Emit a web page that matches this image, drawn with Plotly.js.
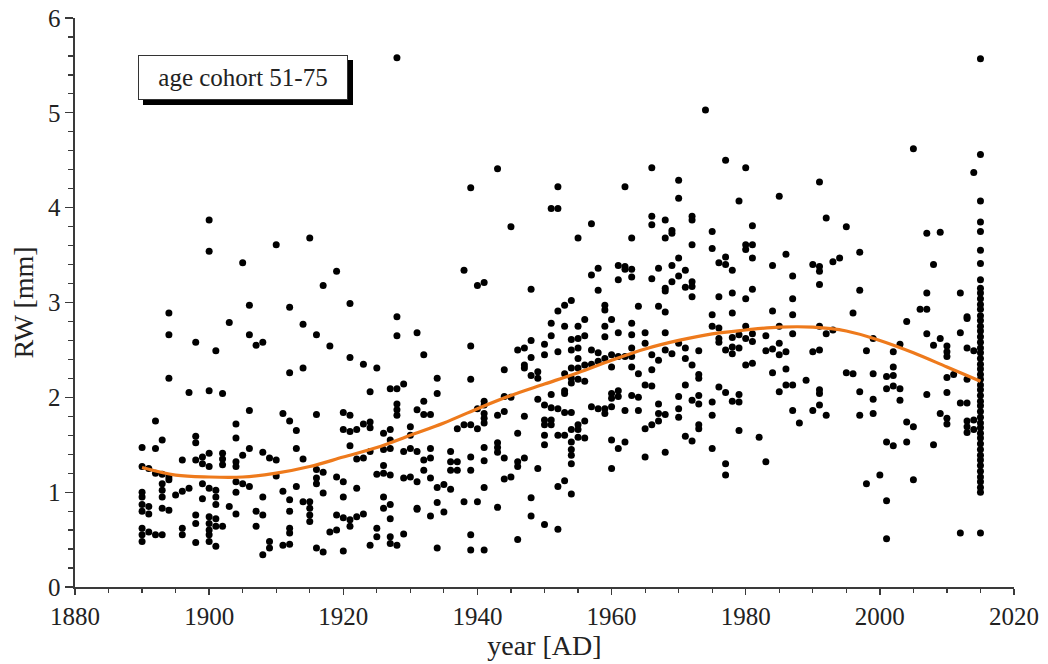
<!DOCTYPE html>
<html>
<head>
<meta charset="utf-8">
<script src="https://cdn.plot.ly/plotly-3.0.1.min.js"></script>
<style>
  html, body { margin: 0; padding: 0; background: #ffffff; }
  #chart { width: 1048px; height: 664px; }
</style>
</head>
<body>
<div id="chart"></div>
<script>
// ---- Data: [year, ring width in mm] ----
const points1890to1931 = [
  [1928,5.58],[1900,3.87],[1900,3.54],[1915,3.68],[1910,3.61],[1905,3.42],[1919,3.33],[1917,3.18],[1894,2.89],[1906,2.97],[1912,2.95],[1921,2.99],[1928,2.85],
  [1903,2.79],[1914,2.77],[1928,2.65],[1894,2.66],[1906,2.66],[1916,2.66],[1898,2.58],[1907,2.55],[1908,2.58],[1918,2.54],[1901,2.49],[1921,2.42],[1923,2.35],[1925,2.31],[1914,2.31],[1912,2.26],[1894,2.20],[1929,2.14],[1928,2.09],[1927,2.09],[1924,2.06],[1897,2.05],[1900,2.07],[1902,2.04],
  [1928,1.93],[1928,1.87],[1928,1.81],[1906,1.86],[1911,1.83],[1916,1.82],[1920,1.84],[1921,1.81],[1912,1.75],[1892,1.75],[1904,1.72],[1923,1.72],[1924,1.74],[1924,1.68],[1920,1.66],[1921,1.64],[1922,1.66],[1913,1.65],[1930,1.69],
  [1898,1.59],[1898,1.52],[1904,1.57],[1893,1.55],[1926,1.62],[1927,1.66],[1927,1.55],[1930,1.60],[1890,1.47],[1892,1.46],[1906,1.46],[1913,1.46],[1921,1.49],[1908,1.42],[1909,1.36],[1910,1.34],[1914,1.35],[1900,1.41],[1899,1.37],[1902,1.41],[1902,1.35],[1902,1.29],[1896,1.34],[1898,1.34],[1899,1.30],[1900,1.27],[1904,1.32],[1904,1.27],[1905,1.39],[1922,1.35],[1923,1.36],[1924,1.43],[1926,1.45],[1927,1.46],[1929,1.43],[1930,1.46],[1931,1.43],
  [1890,1.27],[1891,1.25],[1892,1.20],[1893,1.19],[1894,1.16],[1916,1.24],[1917,1.21],[1910,1.17],[1926,1.28],[1925,1.19],[1926,1.20],[1927,1.18],[1929,1.15],[1930,1.16],
  [1904,1.11],[1905,1.09],[1906,1.06],[1904,1.00],[1893,1.09],[1893,1.02],[1893,0.95],[1894,1.13],[1895,0.97],[1896,1.01],[1897,1.04],[1899,1.09],[1900,1.04],[1901,1.02],[1901,0.95],[1901,0.87],[1899,0.93],[1890,1.00],[1890,0.95],[1916,1.15],[1916,1.09],[1919,1.16],[1920,1.11],[1913,1.06],[1911,1.01],[1917,0.99],[1922,1.04],[1908,0.95],[1912,0.92],[1914,0.90],[1915,0.90],[1915,0.83],[1915,0.76],[1915,0.69],[1920,0.95],[1926,0.95],[1926,0.83],[1927,0.87],[1931,0.83],
  [1890,0.87],[1891,0.85],[1890,0.80],[1891,0.77],[1893,0.83],[1894,0.81],[1903,0.85],[1904,0.77],[1907,0.80],[1908,0.76],[1912,0.80],[1898,0.76],[1898,0.67],[1900,0.74],[1901,0.72],[1900,0.67],[1901,0.64],[1900,0.60],[1900,0.55],[1900,0.48],[1901,0.43],
  [1919,0.76],[1920,0.73],[1921,0.71],[1922,0.74],[1923,0.77],[1921,0.64],[1927,0.72],
  [1890,0.62],[1891,0.58],[1890,0.55],[1892,0.55],[1893,0.55],[1890,0.48],[1896,0.62],[1896,0.55],[1902,0.64],[1907,0.64],[1912,0.62],[1912,0.57],[1918,0.58],[1919,0.60],[1925,0.62],[1925,0.53],[1927,0.53],[1927,0.46],[1928,0.44],[1929,0.56],
  [1909,0.48],[1908,0.34],[1909,0.41],[1911,0.44],[1912,0.45],[1898,0.47],[1916,0.41],[1917,0.37],[1920,0.38],[1924,0.44]
];

const points1931to1972 = [
  [1943,4.41],[1939,4.21],[1952,4.22],[1951,3.99],[1952,3.99],[1962,4.22],[1966,4.42],[1970,4.29],[1970,4.10],[1945,3.80],[1957,3.83],[1955,3.68],[1963,3.68],[1966,3.91],[1966,3.82],[1968,3.87],[1969,3.76],[1969,3.73],[1968,3.68],[1972,3.91],[1972,3.87],[1972,3.61],
  [1938,3.34],[1940,3.18],[1941,3.21],[1948,3.14],[1957,3.29],[1958,3.36],[1961,3.39],[1962,3.38],[1962,3.35],[1963,3.35],[1961,3.24],[1963,3.27],[1966,3.25],[1967,3.36],[1969,3.39],[1970,3.47],[1971,3.34],[1970,3.28],[1969,3.22],[1968,3.15],[1968,3.12],[1972,3.22],[1972,3.17],[1971,3.16],[1972,3.06],[1958,3.13],[1954,3.02],[1953,2.97],[1952,2.91],[1959,2.97],[1959,2.92],[1964,2.96],[1967,2.96],[1968,2.90],
  [1931,2.68],[1932,2.45],[1939,2.54],[1934,2.20],[1934,2.04],[1939,2.19],[1931,1.87],[1932,1.96],[1932,1.82],[1933,1.82],[1937,1.67],[1938,1.71],[1939,1.71],[1940,1.67],[1941,1.96],[1941,1.92],[1940,1.88],[1941,1.83],[1941,1.78],[1941,1.73],
  [1943,1.81],[1944,1.85],[1944,2.01],[1945,2.00],[1944,2.29],[1947,1.80],[1946,2.50],[1947,2.52],[1948,2.60],[1948,2.42],[1947,2.34],[1947,2.31],[1948,2.23],[1949,2.27],[1949,2.20],[1950,2.56],[1950,2.45],[1951,2.78],[1951,2.65],[1952,2.48],
  [1953,2.75],[1954,2.61],[1954,2.50],[1955,2.75],[1955,2.62],[1955,2.52],[1956,2.82],[1956,2.65],[1957,2.50],[1958,2.47],[1959,2.75],[1959,2.64],[1960,2.82],[1961,2.68],[1955,2.41],[1954,2.31],[1955,2.31],[1956,2.34],[1953,2.25],[1954,2.20],[1954,2.15],[1955,2.19],[1956,2.17],
  [1957,2.35],[1958,2.38],[1959,2.41],[1960,2.45],[1960,2.32],[1961,2.43],[1962,2.43],[1963,2.78],[1963,2.66],[1963,2.52],[1963,2.43],[1963,2.32],[1965,2.68],[1965,2.57],[1966,2.45],[1966,2.29],[1967,2.39],[1968,2.68],[1968,2.50],[1969,2.46],[1970,2.57],[1971,2.52],[1971,2.41],[1972,2.34],
  [1964,2.25],[1965,2.13],[1966,2.12],[1971,2.13],[1972,1.97],[1970,2.01],[1970,1.88],[1970,1.79],[1967,1.93],[1967,1.83],[1968,1.82],[1967,1.75],[1966,1.71],[1965,1.67],[1960,2.04],[1960,1.99],[1961,2.07],[1961,2.01],[1963,2.02],[1964,2.00],
  [1949,1.98],[1951,2.03],[1953,2.07],[1953,2.04],[1950,1.92],[1951,1.89],[1952,1.88],[1953,1.84],[1954,1.84],[1957,1.90],[1958,1.88],[1959,1.88],[1959,1.83],[1960,1.90],[1962,1.86],[1964,1.86],
  [1950,1.76],[1951,1.76],[1950,1.71],[1951,1.71],[1950,1.60],[1950,1.50],[1952,1.60],[1953,1.60],[1954,1.66],[1955,1.66],[1955,1.71],[1956,1.75],[1954,1.53],[1954,1.45],[1954,1.39],[1954,1.30],[1955,1.58],[1956,1.57],[1960,1.55],[1961,1.46],[1962,1.53],[1960,1.25],[1965,1.37],[1968,1.42],[1971,1.59],[1972,1.54],
  [1946,1.62],[1943,1.52],[1943,1.47],[1943,1.42],[1941,1.47],[1941,1.33],[1944,1.36],[1946,1.32],[1946,1.27],[1947,1.36],[1949,1.25],[1932,1.34],[1933,1.46],[1933,1.36],[1932,1.23],[1931,1.11],[1933,1.15],[1936,1.43],[1936,1.32],[1937,1.32],[1936,1.23],[1937,1.23],[1939,1.37],[1939,1.23],
  [1934,1.05],[1935,1.08],[1936,1.03],[1941,1.05],[1944,1.14],[1945,1.16],[1952,1.06],[1953,1.12],[1954,0.98],[1948,0.94],[1931,0.82],[1933,0.75],[1934,0.89],[1935,0.79],[1938,0.90],[1940,0.90],[1943,0.84],[1948,0.75],[1950,0.66],[1952,0.61],[1939,0.55],[1946,0.50],[1934,0.41],[1939,0.39],[1941,0.39]
];

const points1973to2014 = [
  [2014,4.37],[2005,4.62],[1974,5.03],[1977,4.50],[1980,4.42],[1991,4.27],[1979,4.07],[1985,4.12],[1992,3.89],[1995,3.80],[1981,3.81],[1975,3.75],[1975,3.57],[1980,3.61],[1981,3.61],[1980,3.56],[2007,3.73],[2009,3.74],
  [1977,3.48],[1976,3.42],[1977,3.40],[1978,3.34],[1981,3.47],[1986,3.51],[1984,3.39],[1990,3.40],[1991,3.38],[1991,3.33],[1993,3.43],[1994,3.47],[1997,3.53],[1987,3.28],[1991,3.19],[2008,3.40],
  [1976,3.06],[1978,3.10],[1980,3.04],[1981,3.14],[1987,3.04],[1997,3.13],[2007,3.10],[2012,3.10],[1975,2.87],[1978,2.89],[1984,2.91],[1987,2.87],[1996,2.89],[2006,2.93],[2007,2.93],[2013,2.85],
  [1975,2.75],[1976,2.73],[1976,2.62],[1976,2.58],[1978,2.63],[1978,2.53],[1978,2.46],[1979,2.66],[1979,2.52],[1980,2.62],[1980,2.75],[1977,2.50],[1981,2.67],[1981,2.59],[1983,2.65],[1983,2.49],[1984,2.51],[1985,2.75],[1985,2.57],[1985,2.45],[1986,2.48],[1987,2.67],
  [1991,2.75],[1992,2.67],[1993,2.71],[1990,2.48],[1991,2.50],[2004,2.80],[2007,2.67],[2008,2.55],[2009,2.62],[2010,2.54],[2010,2.48],[2010,2.43],[2012,2.68],[2013,2.83],[2013,2.52],[2014,2.49],[1999,2.62],[1998,2.49],[2002,2.48],[2003,2.56],
  [1973,2.49],[1980,2.34],[1981,2.36],[1973,2.24],[1973,2.20],[1984,2.26],[1986,2.30],[1989,2.18],[1995,2.26],[1996,2.25],[1999,2.25],[2001,2.22],[2002,2.32],[2002,2.23],[2010,2.21],[2011,2.24],[2013,2.19],
  [1976,2.11],[1977,2.05],[1986,2.13],[1987,2.13],[1985,2.06],[1991,2.08],[1991,2.04],[1997,2.06],[2001,2.09],[2002,2.12],[2003,2.09],[2007,2.03],[2010,2.05],
  [1973,2.02],[1973,1.93],[1975,1.95],[1978,1.96],[1979,2.03],[1979,1.95],[1999,1.98],[2003,1.97],[2012,1.94],[2013,1.94],
  [1975,1.81],[1987,1.86],[1990,1.86],[1991,1.92],[1992,1.81],[1997,1.81],[1999,1.83],[2009,1.83],[2010,1.78],[2010,1.72],[2013,1.75],[2013,1.69],[2013,1.63],[2014,1.76],[2014,1.66],
  [1973,1.71],[1973,1.67],[1988,1.73],[2004,1.74],[2005,1.69],[1979,1.65],[1982,1.58],[1975,1.46],[2001,1.53],[2002,1.49],[2004,1.53],[2008,1.50],
  [1983,1.32],[1977,1.30],[1977,1.18],[2000,1.18],[1998,1.09],[2005,1.13],[2001,0.91],[2001,0.51],[2012,0.57]
];

const points2015 = [
  [2015,5.57],[2015,4.56],[2015,4.07],[2015,3.85],[2015,3.75],[2015,3.55],[2015,3.41],[2015,3.24],[2015,3.15],[2015,3.10],
  [2015,3.04],[2015,2.98],[2015,2.93],[2015,2.86],[2015,2.81],[2015,2.75],[2015,2.70],[2015,2.64],[2015,2.58],[2015,2.52],
  [2015,2.47],[2015,2.41],[2015,2.35],[2015,2.30],[2015,2.24],[2015,2.19],[2015,2.13],[2015,2.08],[2015,2.02],[2015,1.96],
  [2015,1.91],[2015,1.85],[2015,1.79],[2015,1.73],[2015,1.68],[2015,1.62],[2015,1.57],[2015,1.51],[2015,1.45],[2015,1.39],
  [2015,1.34],[2015,1.28],[2015,1.22],[2015,1.16],[2015,1.11],[2015,1.05],[2015,1.00],[2015,0.57]
];

// smoothing spline (orange)
const splineYears = [1890,1895,1900,1905,1910,1915,1920,1925,1930,1935,1940,1945,1950,1955,1960,1965,1970,1975,1980,1985,1990,1995,2000,2005,2010,2015];
const splineRW    = [1.26,1.18,1.16,1.16,1.20,1.27,1.37,1.47,1.60,1.73,1.88,2.02,2.14,2.26,2.39,2.51,2.60,2.67,2.71,2.74,2.74,2.70,2.60,2.47,2.32,2.17];

const xTickVals = [1880,1900,1920,1940,1960,1980,2000,2020];
const yTickVals = [0,1,2,3,4,5,6];
const legendText = 'age cohort 51-75';
const xTitle = 'year [AD]';
const yTitle = 'RW [mm]';

// ---- build ----
const allPts = points1890to1931.concat(points1931to1972, points1973to2014, points2015);
const ptX = allPts.map(p => p[0]);
const ptY = allPts.map(p => p[1]);

const FONT = 'Liberation Serif, Times New Roman, serif';
const INK = '#222222';
const AX = '#3a3a3a';

const traces = [
  {
    type: 'scatter', mode: 'markers', x: ptX, y: ptY,
    marker: { color: '#000000', size: 7, line: { width: 0 } },
    hoverinfo: 'x+y', showlegend: false
  },
  {
    type: 'scatter', mode: 'lines', x: splineYears, y: splineRW,
    line: { color: '#EE7A1C', width: 3.2, shape: 'spline', smoothing: 1 },
    showlegend: false
  }
];

const layout = {
  width: 1048, height: 664,
  margin: { l: 75, r: 34, t: 18, b: 77 },
  paper_bgcolor: '#ffffff', plot_bgcolor: '#ffffff',
  font: { family: FONT, color: INK, size: 24 },
  showlegend: false,
  xaxis: {
    range: [1880, 2020], autorange: false,
    tickmode: 'array', tickvals: xTickVals, ticktext: xTickVals.map(String),
    showline: true, linecolor: AX, linewidth: 1.6,
    ticks: 'outside', ticklen: 6, tickwidth: 1.3, tickcolor: AX,
    minor: { dtick: 5, tick0: 1880, ticks: 'outside', ticklen: 4, tickwidth: 1.2, tickcolor: AX, showgrid: false },
    showgrid: false, zeroline: false,
    tickfont: { family: FONT, size: 25, color: INK },
    title: { text: xTitle, font: { family: FONT, size: 28, color: INK }, standoff: 4 },
    fixedrange: true
  },
  yaxis: {
    range: [0, 6], autorange: false,
    tickmode: 'array', tickvals: yTickVals, ticktext: yTickVals.map(String),
    showline: true, linecolor: AX, linewidth: 1.6,
    ticks: 'outside', ticklen: 8, tickwidth: 1.3, tickcolor: AX,
    minor: { dtick: 0.2, tick0: 0, ticks: 'outside', ticklen: 5, tickwidth: 1.2, tickcolor: AX, showgrid: false },
    showgrid: false, zeroline: false,
    tickfont: { family: FONT, size: 25, color: INK },
    title: { text: yTitle, font: { family: FONT, size: 28, color: INK }, standoff: 6 },
    fixedrange: true
  },
  annotations: [
    {
      // drop shadow box (no text of its own)
      xref: 'paper', yref: 'paper', x: 0.179, y: 0.895, xanchor: 'center', yanchor: 'middle',
      text: '\u00A0', showarrow: false, xshift: 5, yshift: -5,
      font: { family: FONT, size: 25, color: '#000000' },
      bgcolor: '#000000', bordercolor: '#000000', borderwidth: 1, borderpad: 6,
      width: 196, height: 31
    },
    {
      xref: 'paper', yref: 'paper', x: 0.179, y: 0.895, xanchor: 'center', yanchor: 'middle',
      text: legendText, showarrow: false,
      font: { family: FONT, size: 25, color: INK },
      bgcolor: '#ffffff', bordercolor: '#333333', borderwidth: 1, borderpad: 6,
      width: 196, height: 31
    }
  ]
};

Plotly.newPlot('chart', traces, layout, { staticPlot: true, displayModeBar: false });
</script>
</body>
</html>
